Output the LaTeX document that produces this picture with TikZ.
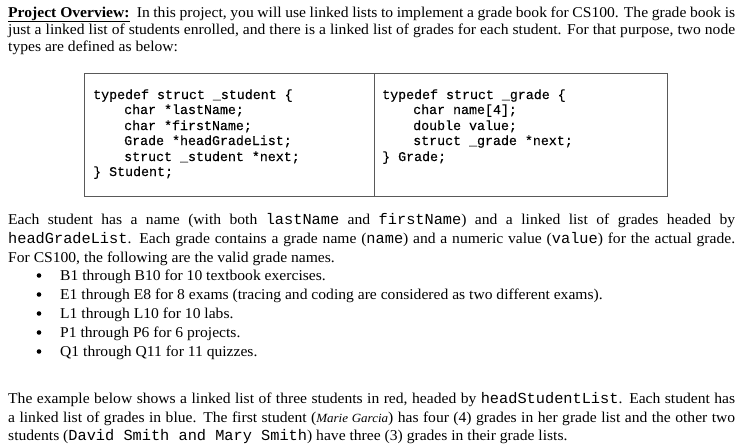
\documentclass[tikz,border=0pt]{standalone}
\usepackage{fontspec}
\setmainfont[FakeStretch=1.04]{Liberation Serif}
\setmonofont{Liberation Mono}
\newfontfamily\codefont[FakeBold=0.3]{Liberation Mono}
\newcommand{\bt}{\fontsize{15}{17}\selectfont}
\newcommand{\cm}[1]{{\fontsize{15.3}{16}\selectfont\ttfamily #1}}
\newcommand{\J}[1]{\makebox[727pt][s]{#1}}
\tikzset{ln/.style={anchor=base west,inner sep=0pt,font=\bt},
  cd/.style={anchor=base west,inner sep=0pt,font=\fontsize{13.3}{15}\selectfont\codefont}}
\begin{document}
\begin{tikzpicture}[x=1pt,y=-1pt]
\useasboundingbox (0,0) rectangle (743,447);
\node[ln] (l1) at (8,17) {\J{\textbf{\underline{Project Overview:}}\ \ In this project, you will use linked lists to implement a grade book for CS100. The grade book is}};
\node[ln] (l2) at (8,34) {\J{just a linked list of students enrolled, and there is a linked list of grades for each student. For that purpose, two node}};
\node[ln] (l3) at (8,51) {types are defined as below:};
\draw[gray!70!black,line width=0.8pt] (84,73) rectangle (667,196);
\draw[gray!70!black,line width=0.8pt] (374,73) -- (374,196);
\node[cd] (a1) at (93,99) {typedef struct \_student \{};
\node[cd] (a2) at (124,114) {char *lastName;};
\node[cd] (a3) at (124,130) {char *firstName;};
\node[cd] (a4) at (124,145) {Grade *headGradeList;};
\node[cd] (a5) at (124,161) {struct \_student *next;};
\node[cd] (a6) at (93,176) {\} Student;};
\node[cd] (b1) at (382,99) {typedef struct \_grade \{};
\node[cd] (b2) at (413,114) {char name[4];};
\node[cd] (b3) at (413,130) {double value;};
\node[cd] (b4) at (413,145) {struct \_grade *next;};
\node[cd] (b5) at (382,161) {\} Grade;};
\node[ln] (p1) at (8,224) {\J{Each student has a name (with both \cm{lastName} and \cm{firstName}) and a linked list of grades headed by}};
\node[ln] (p2) at (8,243) {\J{\cm{headGradeList}. Each grade contains a grade name (\cm{name}) and a numeric value (\cm{value}) for the actual grade.}};
\node[ln] (p3) at (8,262) {For CS100, the following are the valid grade names.};
\foreach \y/\t [count=\i] in {280/B1 through B10 for 10 textbook exercises.,
  299/E1 through E8 for 8 exams (tracing and coding are considered as two different exams).,
  318/L1 through L10 for 10 labs.,
  337/P1 through P6 for 6 projects.,
  356/Q1 through Q11 for 11 quizzes.}{
  \fill (39,\y-4.5) circle (2.3pt);
  \node[ln] (bl\i) at (60,\y) {\t};
}
\node[ln] (q1) at (8,403) {\J{The example below shows a linked list of three students in red, headed by \cm{headStudentList}. Each student has}};
\node[ln] (q2) at (8,422) {\J{a linked list of grades in blue. The first student ({\itshape\fontsize{12.5}{14}\selectfont Marie Garcia}) has four (4) grades in her grade list and the other two}};
\node[ln] (q3) at (8,440) {students (\cm{David Smith and Mary Smith}) have three (3) grades in their grade lists.};
\end{tikzpicture}
\end{document}
